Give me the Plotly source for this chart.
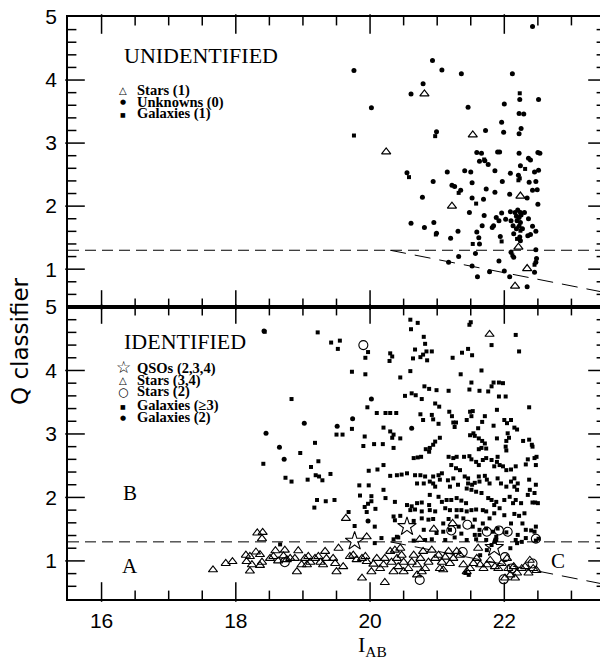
import plotly.graph_objects as go

# ---------------- data ----------------
# Top panel: UNIDENTIFIED
unk_x = [19.76,22.42,20.93,21.07,21.36,22.12,20.79,20.61,20.02,21.46,22.00,22.23,22.51,22.22,22.29,21.96,22.25,22.22,21.72,21.99,
         20.99,21.59,21.66,21.90,22.22,22.50,22.36,21.63,21.76,22.24,20.55,21.15,21.41,21.50,21.86,22.09,22.21,22.45,22.51,20.94,
         21.52,21.97,22.37,22.47,21.22,21.26,21.35,21.73,21.86,22.08,22.42,22.49,20.78,21.52,21.69,22.34,22.50,21.48,21.70,21.96,
         22.09,22.16,22.20,22.24,22.30,21.88,22.02,22.18,22.22,22.25,22.10,22.19,22.24,22.36,20.61,20.95,20.81,21.67,21.84,21.82,
         21.92,22.13,22.18,22.22,22.27,22.42,22.47,20.99,21.31,21.20,21.59,21.62,21.94,22.14,22.23,22.35,22.39,21.63,22.24,21.57,
         22.10,22.14,22.47,22.48,22.47,21.32,21.92,21.17,21.52,21.78,22.00,21.60,22.08,22.45,22.34,21.71,22.39,22.53,21.93]
unk_y = [4.15,4.85,4.31,4.16,4.10,4.10,3.94,3.78,3.56,3.57,3.62,3.69,3.69,3.47,3.46,3.33,3.23,3.15,3.20,3.17,
         3.18,2.85,2.84,2.86,2.84,2.85,2.76,2.71,2.66,2.64,2.53,2.54,2.56,2.54,2.56,2.52,2.49,2.54,2.57,2.39,
         2.37,2.39,2.38,2.39,2.33,2.31,2.25,2.27,2.22,2.19,2.25,2.26,2.14,2.13,2.11,2.13,2.03,1.90,1.85,1.89,
         1.91,1.90,1.94,1.90,1.90,1.82,1.79,1.84,1.82,1.86,1.77,1.77,1.74,1.80,1.73,1.74,1.66,1.69,1.69,1.66,
         1.77,1.69,1.64,1.68,1.64,1.68,1.60,1.57,1.60,1.49,1.59,1.50,1.52,1.56,1.51,1.53,1.55,1.40,1.45,1.25,
         1.27,1.19,1.31,1.17,1.11,1.20,1.13,1.11,1.05,0.96,0.97,0.88,0.88,0.95,0.72,2.72,2.73,2.84,2.86]
gal1_x = [19.76,20.58,20.97,22.23,22.21,21.58,22.24,20.98,21.96,22.12,22.45,21.53,22.19,21.70,22.31,21.32,22.23]
gal1_y = [3.12,2.46,3.11,3.79,2.41,2.04,1.61,1.55,1.44,1.22,1.07,1.40,1.48,2.74,2.59,2.21,2.44]
star1_x = [20.81,21.53,20.24,22.24,21.22,22.21,22.34,22.16]
star1_y = [3.78,3.13,2.86,2.16,2.00,1.35,1.01,0.73]

# Bottom panel: IDENTIFIED
gal3_x = [18.43,19.22,19.42,19.55,19.52,19.97,19.93,19.73,19.93,18.83,19.96,20.10,19.73,19.50,19.59,19.92,19.18,19.90,20.06,18.96,
          19.23,18.41,19.12,19.98,20.11,19.19,19.24,19.29,19.41,18.74,18.83,19.07,19.84,19.98,19.85,20.02,19.21,19.34,19.47,19.17,
          19.97,20.02,19.92,20.08,19.95,19.68,19.77,20.07,18.66,
          20.60,20.71,20.61,21.48,21.50,20.80,20.82,20.67,20.84,20.92,20.75,20.79,20.64,20.85,20.30,20.33,20.29,21.23,21.37,21.46,
          21.52,21.81,22.17,22.22,20.60,20.45,21.35,21.66,21.51,21.84,21.92,21.98,21.81,20.81,20.88,20.99,21.17,21.48,21.63,21.76,
          20.52,20.62,20.68,20.77,21.92,22.02,20.97,21.03,22.37,20.23,20.30,20.39,20.75,20.92,20.94,20.79,21.18,21.22,21.28,21.49,
          21.53,21.44,21.51,21.71,21.89,22.00,22.10,22.04,22.15,22.19,21.02,21.26,21.24,21.84,21.67,20.20,20.30,20.35,20.45,20.33,
          21.61,21.54,21.49,21.56,21.04,20.97,20.94,20.89,20.83,20.88,21.62,21.67,21.71,21.73,21.62,21.66,21.89,22.05,22.07,22.03,
          22.02,22.03,22.28,22.37,22.41,22.42,20.19,20.20,20.35,20.65,20.71,20.76,21.17,21.24,21.29,21.40,21.48,21.51,21.58,21.62,
          21.68,21.73,21.81,21.85,21.89,21.90,21.93,21.98,22.03,22.10,22.17,22.32,22.35,22.45,22.48,22.47,21.21,21.28,21.34,20.30,
          20.40,20.47,20.55,20.67,20.75,20.82,20.94,21.02,21.07,20.70,20.80,20.89,20.94,20.97,21.04,21.16,21.24,21.19,21.31,21.41,
          21.46,21.46,21.52,21.56,21.63,21.62,21.71,21.74,21.78,21.44,21.51,21.58,21.66,21.90,21.95,22.03,22.10,22.15,22.20,22.15,
          22.19,22.37,22.47,22.38,22.35,22.45,20.20,20.23,20.37,20.55,20.62,20.70,20.77,20.88,20.89,21.02,21.07,21.14,21.21,21.29,
          21.36,21.43,21.76,21.81,21.88,21.85,21.93,22.00,22.08,22.13,22.17,22.25,22.42,22.46,22.50,20.60,20.67,20.77,20.89,20.97,
          21.12,21.19,21.29,21.36,21.44,21.51,21.58,21.68,21.73,21.85,22.00,22.15,22.22,22.30,20.45,20.77,20.87,20.94,21.17,21.29,
          21.39,21.56,21.78,20.35,20.37,20.65,21.09,21.68,22.10,22.27,21.32,21.53,21.63,21.73,21.83,21.90,22.32,22.45,22.47,20.80,
          21.09,21.36,21.56,21.63,21.88,22.03,22.20,22.40,20.42,20.35,20.65,20.82,20.92,21.12,21.26,21.44,21.58,21.73,21.88,22.17,
          22.32,22.47,22.51,20.07,20.17,20.40,20.99,21.19,21.42,21.47,21.64,21.74,21.81,21.86,22.09,22.19,22.26]
gal3_y = [4.61,4.60,4.44,4.47,4.34,4.29,4.20,3.98,3.94,3.55,3.42,3.33,3.08,2.99,2.99,2.96,2.86,2.81,2.84,2.70,
          2.57,2.53,2.48,2.42,2.44,2.35,2.33,2.27,2.37,2.31,2.25,2.28,2.19,2.19,2.03,2.02,1.96,1.94,1.96,1.84,
          1.90,1.94,1.85,1.82,1.77,1.77,1.55,1.54,1.26,
          4.80,4.75,4.65,4.72,4.76,4.53,4.42,4.33,4.30,4.30,4.21,4.25,4.19,4.16,4.27,4.22,4.15,4.20,4.28,4.34,
          4.24,4.40,4.56,4.30,3.99,3.89,3.94,4.00,3.81,3.81,3.81,3.80,3.75,3.75,3.71,3.69,3.68,3.70,3.68,3.67,
          3.60,3.64,3.61,3.55,3.59,3.59,3.48,3.43,3.42,3.33,3.33,3.33,3.31,3.30,3.23,3.22,3.35,3.28,3.18,3.35,
          3.36,3.22,3.28,3.28,3.38,3.22,3.22,3.17,3.10,3.07,3.16,3.11,3.18,3.13,3.19,3.10,3.04,2.99,2.93,2.94,
          3.09,3.01,2.98,2.97,2.94,2.88,2.83,2.78,2.76,2.72,2.93,2.89,2.85,2.77,2.76,2.78,2.93,3.01,2.94,2.89,
          2.80,2.74,2.89,2.91,2.83,2.80,2.84,2.51,2.78,2.62,2.63,2.64,2.64,2.62,2.64,2.64,2.65,2.60,2.56,2.51,
          2.59,2.62,2.59,2.49,2.56,2.64,2.51,2.49,2.43,2.44,2.49,2.52,2.60,2.62,2.64,2.51,2.51,2.46,2.43,2.34,
          2.35,2.36,2.38,2.35,2.35,2.33,2.33,2.35,2.38,2.22,2.22,2.25,2.22,2.17,2.28,2.27,2.30,2.17,2.20,2.33,
          2.30,2.22,2.20,2.23,2.25,2.33,2.34,2.28,2.22,2.14,2.12,2.09,2.07,2.30,2.22,2.17,2.25,2.30,2.22,2.17,
          2.12,2.28,2.20,2.12,2.04,2.07,2.12,1.99,1.93,1.88,1.86,1.91,1.92,1.88,2.04,2.01,1.93,1.96,1.96,1.99,
          1.95,1.91,1.99,1.96,1.93,1.88,1.83,1.96,2.01,1.91,1.96,1.91,1.92,1.92,1.91,1.80,1.81,1.78,1.80,1.78,
          1.83,1.80,1.80,1.80,1.78,1.80,1.81,1.80,1.78,1.75,1.72,1.74,1.71,1.75,1.71,1.67,1.65,1.66,1.66,1.70,
          1.67,1.65,1.67,1.70,1.64,1.63,1.59,1.59,1.59,1.59,1.54,1.54,1.49,1.51,1.46,1.51,1.49,1.46,1.54,1.49,
          1.46,1.43,1.41,1.41,1.38,1.45,1.41,1.48,1.37,1.34,1.32,1.33,1.34,1.33,1.37,1.33,1.34,1.33,1.33,1.33,
          1.36,1.32,1.35,1.28,1.36,1.38,1.44,1.49,0.81,0.78,1.09,1.17,1.25,1.30,1.20,1.28,1.30]
gal2_x = [18.72,18.42,19.02,18.45,19.74,20.02,18.65,19.51,19.97,20.62]
gal2_y = [2.60,4.62,3.17,3.01,3.24,3.55,2.79,3.12,1.63,3.09]

st34_x = [19.64,18.32,18.40,18.39,19.95,21.78,20.95,20.74,21.23,
          17.66,17.85,17.95,18.15,18.21,18.30,18.36,18.16,18.24,18.21,18.39,18.36,18.51,18.56,18.59,18.63,18.71,18.73,18.76,18.81,
          18.88,18.93,18.91,18.98,19.03,19.08,19.06,19.11,19.18,19.23,19.26,19.30,19.33,19.35,19.48,19.50,19.45,19.53,19.60,19.70,
          19.75,19.80,19.88,19.88,19.95,19.93,
          20.10,20.05,20.15,20.02,20.20,20.22,20.22,20.30,20.37,20.45,20.32,20.40,20.47,20.50,20.42,20.35,20.50,20.57,20.62,20.65,
          20.70,20.75,20.79,20.70,20.77,20.82,20.87,20.92,20.97,21.02,21.07,21.12,21.17,21.04,21.09,21.19,21.24,21.29,21.34,21.39,
          21.44,21.49,21.54,21.59,21.64,21.69,21.74,21.79,21.86,21.91,21.96,22.04,22.06,22.14,22.19,22.26,22.31,22.38,22.43,22.48,
          22.36,21.61,22.01,22.09,22.16]
st34_y = [1.67,1.44,1.45,1.35,1.38,4.57,1.50,1.34,1.59,
          0.86,0.96,0.99,1.09,1.07,1.14,1.10,0.99,0.94,0.84,0.98,0.93,1.04,1.07,1.16,1.00,1.08,1.17,1.02,1.04,
          1.04,1.16,0.83,0.94,1.04,1.07,0.94,0.98,1.04,1.07,0.98,0.94,1.15,1.04,0.96,0.83,1.04,1.20,0.91,1.07,
          1.09,1.02,1.04,0.73,0.99,1.07,
          1.04,0.95,0.88,0.83,0.94,1.04,0.66,1.15,1.17,1.20,0.98,1.04,1.09,0.98,0.91,0.83,0.83,0.88,0.98,1.09,
          0.94,1.04,1.15,0.78,0.83,0.88,0.98,1.17,1.04,1.09,0.98,1.06,1.15,0.88,0.86,0.96,1.04,1.15,1.09,0.94,
          0.83,0.88,0.96,1.04,0.94,0.88,0.94,1.01,0.91,0.88,0.96,1.04,0.88,0.91,0.81,0.88,0.91,1.01,0.88,0.85,
          0.81,1.20,0.73,0.78,0.73]
st2_x = [19.90,18.73,20.74,21.38,21.45,21.74,21.92,22.05,21.21,22.47,22.01,22.11,21.99,22.42]
st2_y = [4.40,0.98,0.70,1.14,1.57,1.46,1.48,1.46,1.48,1.35,1.06,0.88,0.71,0.96]
qso_x = [20.55,19.77,21.85]
qso_y = [1.54,1.31,1.21]

# cut lines
cut_x = [15.5, 23.5]
cut_y = [1.3, 1.3]
slant_x = [20.3, 23.5]
slant_y = [1.3, 0.63]

x_range = [15.5, 23.5]
y_range = [0.4, 5.0]
x_major = [16, 18, 20, 22]
x_minor = [16.5, 17, 17.5, 18.5, 19, 19.5, 20.5, 21, 21.5, 22.5, 23]
y_major = [1, 2, 3, 4]
y_minor = [0.6, 0.8, 1.2, 1.4, 1.6, 1.8, 2.2, 2.4, 2.6, 2.8, 3.2, 3.4, 3.6, 3.8, 4.2, 4.4, 4.6, 4.8]

# ---------------- figure ----------------
fig = go.Figure()
K = '#000000'

def pts(x, y, xa, ya, symbol, size, lw=0):
    m = dict(symbol=symbol, size=size, color=K)
    if lw:
        m['line'] = dict(width=lw, color=K)
    return go.Scatter(x=x, y=y, mode='markers', marker=m, xaxis=xa, yaxis=ya,
                      showlegend=False, hoverinfo='skip')

def line(x, y, xa, ya, dash, width=1):
    return go.Scatter(x=x, y=y, mode='lines', line=dict(color=K, width=width, dash=dash),
                      xaxis=xa, yaxis=ya, showlegend=False, hoverinfo='skip')

# the page body has an 8px margin: the figure is sized so the plot area lands
# at 68..605 (x) and 17..599 (y) in the 608x658 window
W, H = 600, 650
L, R, T, B = 60, 3, 9, 59
PW, PH = W - L - R, H - T - B
split = 292 / PH

# inside tick marks on all four sides of each panel, drawn as line markers
def tick_traces(xa, ya, ph):
    out = []
    xspan = x_range[1] - x_range[0]
    yspan = y_range[1] - y_range[0]
    for vals, tl in [(x_major, 14), (x_minor, 7)]:
        h = tl * yspan / ph / 2
        xs = vals + vals
        ys = [y_range[0] + h] * len(vals) + [y_range[1] - h] * len(vals)
        t = pts(xs, ys, xa, ya, 'line-ns-open', tl, 1.5)
        t.cliponaxis = False
        out.append(t)
    for vals, tl in [(y_major, 14), (y_minor, 7)]:
        w = tl * xspan / PW / 2
        xs = [x_range[0] + w] * len(vals) + [x_range[1] - w] * len(vals)
        ys = vals + vals
        t = pts(xs, ys, xa, ya, 'line-ew-open', tl, 1.5)
        t.cliponaxis = False
        out.append(t)
    return out

# top panel
fig.add_trace(line(cut_x, cut_y, 'x2', 'y2', '11px,6px'))
fig.add_trace(line(slant_x, slant_y, 'x2', 'y2', '16px,9px'))
fig.add_trace(pts(unk_x, unk_y, 'x2', 'y2', 'circle', 5))
fig.add_trace(pts(gal1_x, gal1_y, 'x2', 'y2', 'square', 4))
fig.add_trace(pts(star1_x, star1_y, 'x2', 'y2', 'triangle-up-open', 8, 1.2))
fig.add_traces(tick_traces('x2', 'y2', PH - 292))
# bottom panel
fig.add_trace(line(cut_x, cut_y, 'x', 'y', '11px,6px'))
fig.add_trace(line(slant_x, slant_y, 'x', 'y', '16px,9px'))
fig.add_trace(pts(gal3_x, gal3_y, 'x', 'y', 'square', 4))
fig.add_trace(pts(gal2_x, gal2_y, 'x', 'y', 'circle', 5))
fig.add_trace(pts(st34_x, st34_y, 'x', 'y', 'triangle-up-open', 8, 1.1))
fig.add_trace(pts(st2_x, st2_y, 'x', 'y', 'circle-open', 9, 1.1))
fig.add_trace(pts(qso_x, qso_y, 'x', 'y', 'star-open', 14, 1.1))
fig.add_traces(tick_traces('x', 'y', 292))

def ax(**kw):
    d = dict(showline=True, linecolor=K, linewidth=1.6, mirror=True, ticks='',
             showgrid=False, zeroline=False, tickmode='linear', ticklabeloverflow='allow',
             tickfont=dict(family='Liberation Sans', size=21, color=K))
    d.update(kw)
    return d

fig.update_layout(
    width=W, height=H, margin=dict(l=L, r=R, t=T, b=B, autoexpand=False),
    paper_bgcolor='white', plot_bgcolor='white', showlegend=False,
    xaxis=ax(range=x_range, tick0=0, dtick=2, anchor='y', ticklabelstandoff=2),
    yaxis=ax(range=y_range, tick0=0, dtick=1, domain=[0, split], anchor='x',
             ticklabelstandoff=5),
    xaxis2=ax(range=x_range, tick0=0, dtick=2, anchor='y2', matches='x',
              showticklabels=False),
    yaxis2=ax(range=y_range, tick0=0, dtick=1, domain=[split, 1], anchor='x2',
              ticklabelstandoff=5),
)

# annotation positions given in window pixels (plot area 68..605 x 17..599)
def px(x):
    return (x - 68) / 537

def py(y):
    return (599 - y) / 582

ann = []
def text(s, x, y, size, family='Liberation Serif', xanchor='center', angle=0, bold=False):
    if bold:
        s = '<b>' + s + '</b>'
    ann.append(dict(text=s, x=px(x), y=py(y), xref='paper', yref='paper', showarrow=False,
                    xanchor=xanchor, yanchor='middle', textangle=angle,
                    font=dict(family=family, size=size, color=K)))

text('UNIDENTIFIED', 201, 56, 22)
text('IDENTIFIED', 185, 341, 22)
for lbl, yy in [('Stars (1)', 90), ('Unknowns (0)', 102), ('Galaxies (1)', 114)]:
    text(lbl, 135, yy, 14.5, xanchor='left', bold=True)
text('△', 123, 90, 10, family='DejaVu Sans')
text('●', 123, 102, 7, family='DejaVu Sans')
text('■', 123, 115, 6, family='DejaVu Sans')
for lbl, yy in [('QSOs (2,3,4)', 368), ('Stars (3,4)', 380), ('Stars (2)', 392),
                ('Galaxies (≥3)', 405), ('Galaxies (2)', 417)]:
    text(lbl, 135, yy, 14.5, xanchor='left', bold=True)
text('☆', 123, 367, 17, family='DejaVu Sans')
text('△', 123, 380, 10, family='DejaVu Sans')
text('○', 123, 392, 12, family='DejaVu Sans')
text('■', 123, 406, 6, family='DejaVu Sans')
text('●', 123, 418, 7, family='DejaVu Sans')
text('B', 130, 493, 21)
text('A', 130, 566, 21)
text('C', 558, 561, 21)
text('Q classifier', 20, 341, 23, family='DejaVu Sans', angle=-90)
text('I<sub>AB</sub>', 372, 646, 22)
fig.update_layout(annotations=ann)

fig.write_html('out.html')
